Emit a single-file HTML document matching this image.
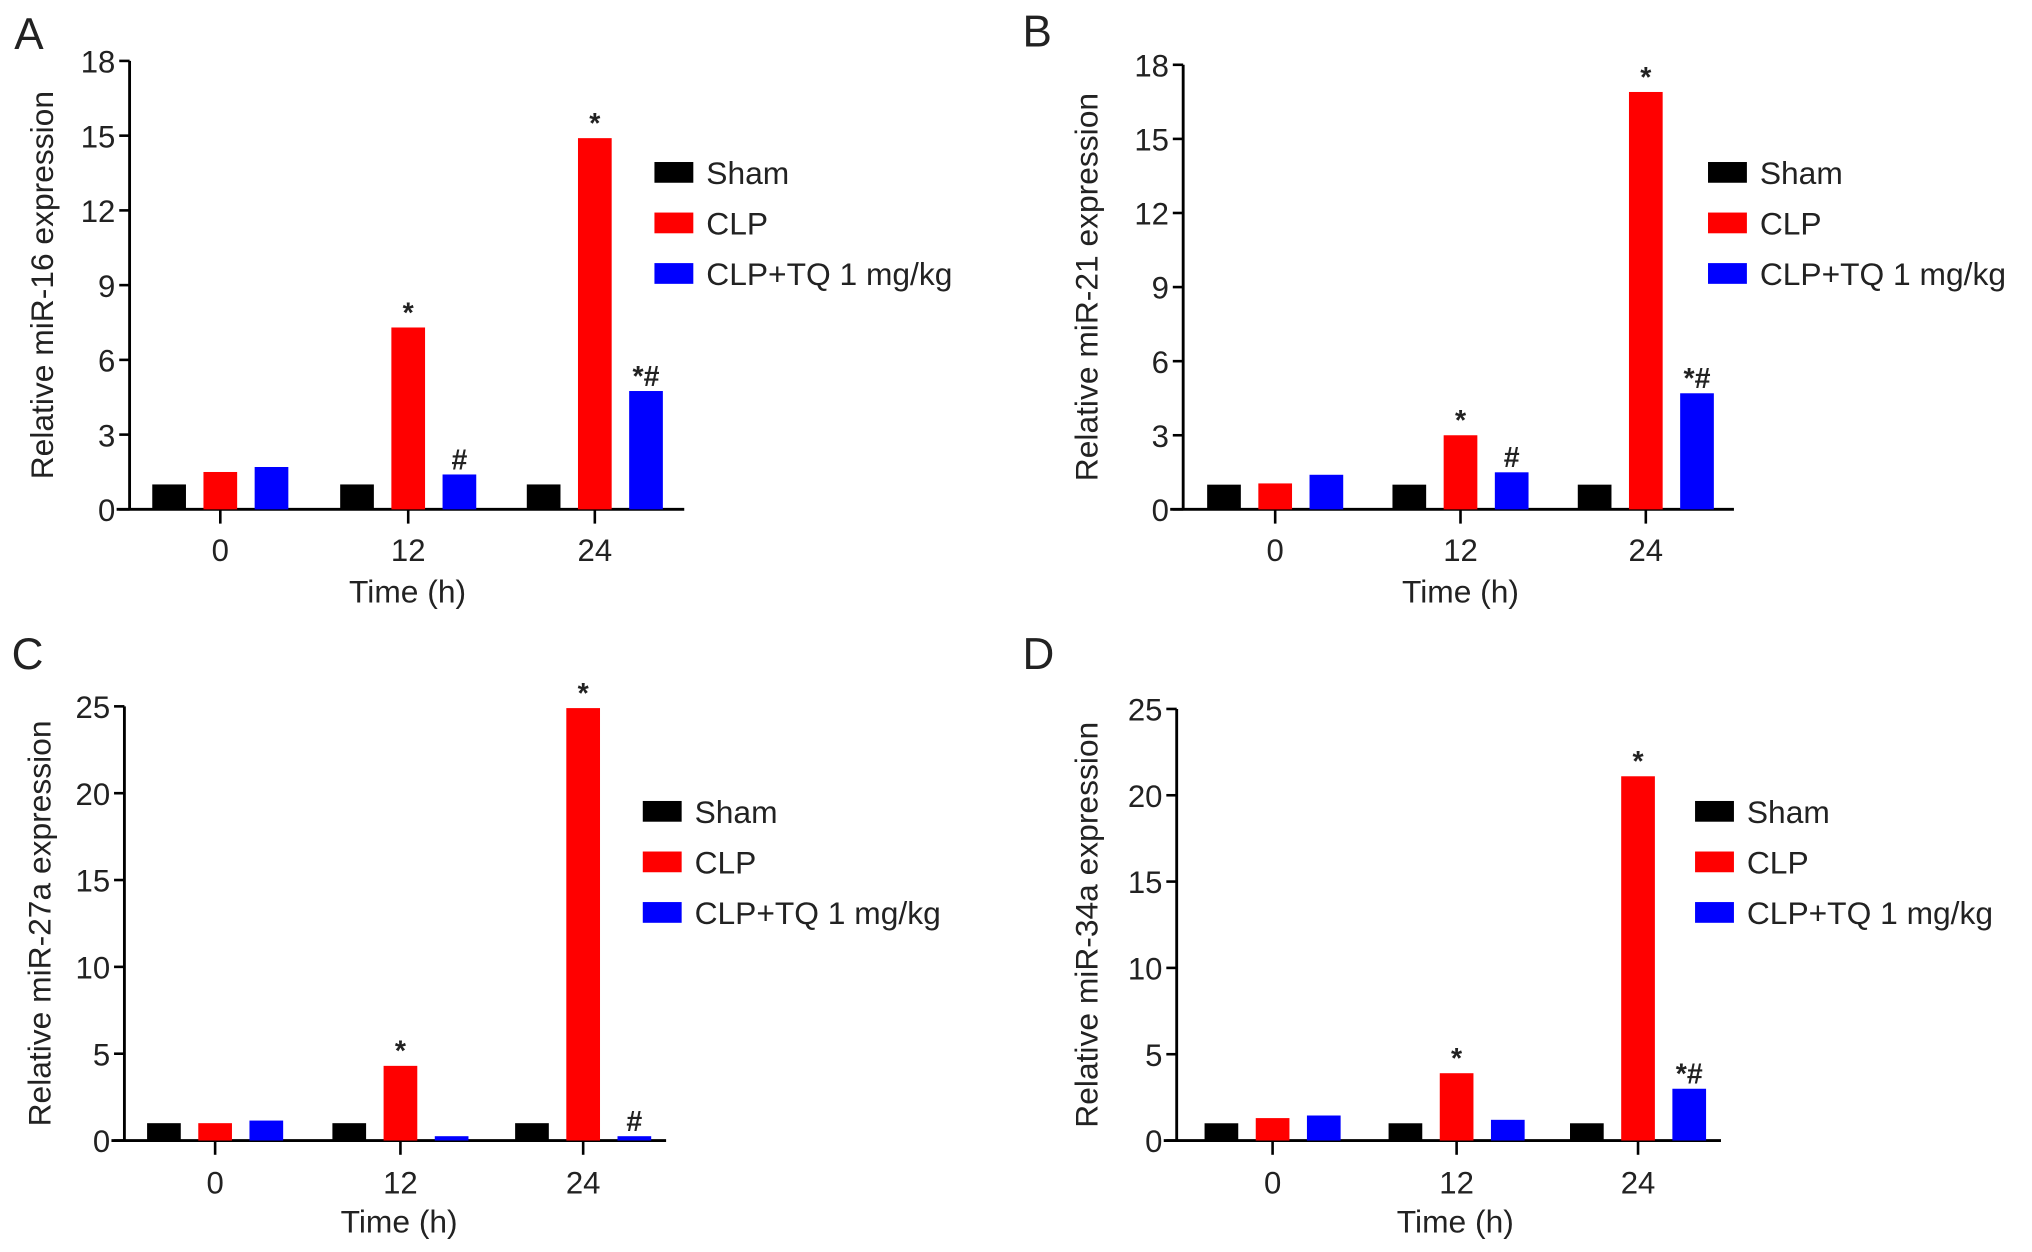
<!DOCTYPE html>
<html><head><meta charset="utf-8"><style>
html,body{margin:0;padding:0;background:#fff;}
svg{display:block;}
text{font-family:"Liberation Sans",Arial,sans-serif;fill:#222;}
</style></head><body>
<svg id="fig" width="2032" height="1252" viewBox="0 0 1568 966" preserveAspectRatio="none" xmlns="http://www.w3.org/2000/svg"></svg>
<script>
const categories = ["0","12","24"];
const seriesNames = ["Sham","CLP","CLP+TQ 1 mg/kg"];
const shamA = [1,1,1], clpA = [1.5,7.3,14.9], tqA = [1.7,1.4,4.75];
const shamB = [1,1,1], clpB = [1.05,3.0,16.9], tqB = [1.4,1.5,4.7];
const shamC = [1,1,1], clpC = [1.0,4.3,24.9], tqC = [1.15,0.25,0.25];
const shamD = [1,1,1], clpD = [1.3,3.9,21.1], tqD = [1.45,1.2,3.0];
const ticksA = [0,3,6,9,12,15,18];
const ticksC = [0,5,10,15,20,25];
const annA = [["","",""],["","*","#"],["","*","*#"]];
const annB = [["","",""],["","*","#"],["","*","*#"]];
const annC = [["","",""],["","*",""],["","*","#"]];
const annD = [["","",""],["","*",""],["","*","*#"]];

const NS="http://www.w3.org/2000/svg";
const svg=document.getElementById('fig');
const colors=["#000000","#ff0000","#0000ff"];
function el(tag,attrs,parent){const e=document.createElementNS(NS,tag);for(const k in attrs)e.setAttribute(k,attrs[k]);(parent||svg).appendChild(e);return e;}

const panels=[
 {id:"a",label:"A",lx:11,ly:38,ax:100,ax2:528,top:47,zero:393,max:18,ticks:ticksA,cx:[170,315,459],data:[shamA,clpA,tqA],ann:annA,title:"Relative miR-16 expression",tx:32,legX:505,legY:[133,172,211],xl:424,xt:456},
 {id:"b",label:"B",lx:789,ly:36,ax:913,ax2:1338,top:50,zero:393,max:18,ticks:ticksA,cx:[984,1127,1270],data:[shamB,clpB,tqB],ann:annB,title:"Relative miR-21 expression",tx:838,legX:1318,legY:[133,172,211],xl:424,xt:456},
 {id:"c",label:"C",lx:9,ly:516,ax:96,ax2:514,top:545,zero:880,max:25,ticks:ticksC,cx:[166,309,450],data:[shamC,clpC,tqC],ann:annC,title:"Relative miR-27a expression",tx:30,legX:496,legY:[626,665,704],xl:912,xt:942},
 {id:"d",label:"D",lx:789,ly:516,ax:908,ax2:1328,top:547,zero:880,max:25,ticks:ticksC,cx:[982,1124,1264],data:[shamD,clpD,tqD],ann:annD,title:"Relative miR-34a expression",tx:838,legX:1308,legY:[626,665,704],xl:912,xt:942}
];

panels.forEach(p=>{
 const g=el('g',{});
 
 
 const y=v=>p.zero-(v/p.max)*(p.zero-p.top);
 const lab=el('text',{x:p.lx,y:p.ly,'font-size':34},g);lab.textContent=p.label;
 
 
 const ya=el('line',{x1:p.ax,y1:p.top,x2:p.ax,y2:p.zero,stroke:'#000','stroke-width':2.2},g);
 
 
 p.ticks.forEach(t=>{
  el('line',{x1:p.ax-8,y1:y(t),x2:p.ax,y2:y(t),stroke:'#000','stroke-width':2},g);
  const tt=el('text',{x:p.ax-11,y:y(t)+9,'font-size':24,'text-anchor':'end'},g);tt.textContent=t;
  
  
 });
 const xa=el('line',{x1:p.ax-10,y1:p.zero,x2:p.ax2,y2:p.zero,stroke:'#000','stroke-width':2.2},g);
 
 
 const yt=el('text',{x:0,y:0,'font-size':24.5,'text-anchor':'middle',transform:`translate(${p.tx+9},${(p.top+p.zero)/2}) rotate(-90)`},g);yt.textContent=p.title;
 
 
 categories.forEach((c,i)=>{
  const cx=p.cx[i];
  el('line',{x1:cx,y1:p.zero,x2:cx,y2:p.zero+11,stroke:'#000','stroke-width':2},g);
  const xl=el('text',{x:cx,y:p.xl+9,'font-size':24,'text-anchor':'middle'},g);xl.textContent=c;
  
  
  p.data.forEach((s,j)=>{
   const bx=cx+(j-1)*39.5-13;
   const r=el('rect',{x:bx,y:y(s[i]),width:26,height:p.zero-y(s[i]),fill:colors[j]},g);
   
   
   const a=p.ann[i][j];
   if(a){const at=el('text',{x:bx+13,y:y(s[i])-4,'font-size':22,'text-anchor':'middle','font-weight':'bold'},g);at.textContent=a;
    
    }
  });
 });
 const xt=el('text',{x:(p.cx[0]+p.cx[2])/2,y:p.xt+9,'font-size':24.5,'text-anchor':'middle'},g);xt.textContent="Time (h)";
 
 
 seriesNames.forEach((n,j)=>{
  const lg=el('g',{},g);
  
  
  el('rect',{x:p.legX,y:p.legY[j]-8,width:30,height:16,fill:colors[j]},lg);
  const t=el('text',{x:p.legX+40,y:p.legY[j]+9,'font-size':24.5},lg);t.textContent=n;
 });
});
</script>
</body></html>
